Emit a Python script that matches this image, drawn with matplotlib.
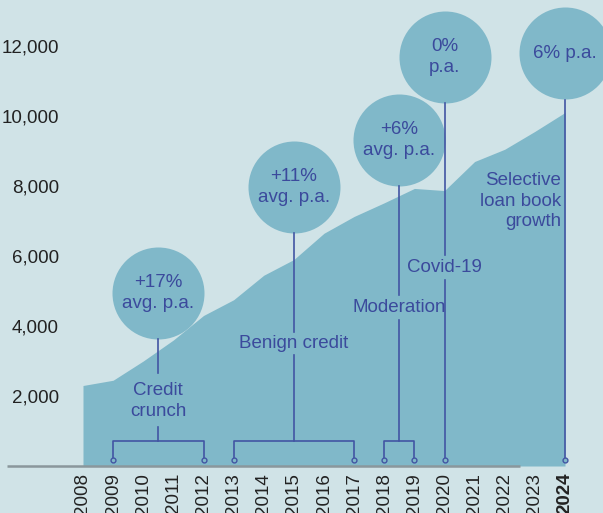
import numpy as np
import matplotlib.pyplot as plt

# --- data -------------------------------------------------------------
years = np.arange(2008, 2025)
loans = [2300, 2450, 3000, 3600, 4300, 4750, 5450, 5900, 6650,
         7130, 7520, 7930, 7870, 8700, 9050, 9560, 10100]

y_ticks = [2000, 4000, 6000, 8000, 10000, 12000]
y_tick_labels = ['2,000', '4,000', '6,000', '8,000', '10,000', '12,000']

phase_growth = ['+17%\navg. p.a.', '+11%\navg. p.a.', '+6%\navg. p.a.', '0%\np.a.', '6% p.a.']
phase_names = ['Credit\ncrunch', 'Benign credit', 'Moderation', 'Covid-19',
               'Selective\nloan book\ngrowth']
phase_start = [2009, 2013, 2018, 2020, 2024]
phase_end = [2012, 2017, 2019, 2020, 2024]

# --- layout (pixel rows measured from the top of the picture) ---------
bubble_row = [293, 187, 140, 57, 53]
name_row = [401, 343, 308, 268, 201]
seg_top = [(339, 373), (233, 332), (186, 295), (103, 255), (100, 460)]
seg_bot = [(427, 441), (355, 441), (320, 441), (280, 460), None]
bracket_row = 441
foot_row = 460

bg = '#d0e3e7'
fill = '#80b8c9'
ink = '#3b4a9c'
line_col = '#4255a3'

base_px = 466.0
px_per_unit = 0.035  # pixels per loan unit


def val(px):
    return (base_px - px) / px_per_unit


plt.rcParams['font.family'] = ['Liberation Sans', 'DejaVu Sans']

fig = plt.figure(figsize=(6.03, 5.13), dpi=100, facecolor=bg)
ax = fig.add_axes([7 / 603, (513 - base_px) / 513, 596 / 603, base_px / 513])
ax.set_facecolor(bg)

x_left = 2008 - 76 / 30.125
x_right = 2008 + 520 / 30.125
ax.set_xlim(x_left, x_right)
ax.set_ylim(0, base_px / px_per_unit)

ax.fill_between(years, loans, 0, color=fill, lw=0, zorder=1)
ax.plot([x_left, 2022.5], [0, 0], color='#8a979c', lw=1.8, zorder=2,
        clip_on=False, solid_capstyle='butt')

for sp in ax.spines.values():
    sp.set_visible(False)

ax.set_yticks(y_ticks)
ax.set_yticklabels(y_tick_labels)
ax.tick_params(axis='y', length=0, pad=-37.4, labelsize=13.5, labelcolor='#222222')
ax.set_xticks(years)
ax.set_xticklabels([str(y) for y in years], rotation=90)
ax.tick_params(axis='x', length=0, pad=5, labelsize=13.5, labelcolor='#222222')
ax.get_xticklabels()[-1].set_fontweight('bold')

centres = [(s + e) / 2 for s, e in zip(phase_start, phase_end)]

# bubbles
r_px = 46
ax.scatter(centres, [val(p) for p in bubble_row], s=(2 * r_px * 0.72) ** 2,
           color=fill, lw=0, zorder=3, clip_on=False)
for i, c in enumerate(centres):
    ax.text(c, val(bubble_row[i]), phase_growth[i], ha='center', va='center',
            fontsize=13.5, color=ink, zorder=5, linespacing=1.3)

# stems, brackets and phase names
for i, c in enumerate(centres):
    a, b = seg_top[i]
    ax.plot([c, c], [val(a), val(b)], color=line_col, lw=1.2, zorder=4)
    if seg_bot[i] is not None:
        a, b = seg_bot[i]
        ax.plot([c, c], [val(a), val(b)], color=line_col, lw=1.2, zorder=4)
    if phase_start[i] != phase_end[i]:
        s, e = phase_start[i], phase_end[i]
        ax.plot([s, s, e, e], [val(foot_row), val(bracket_row), val(bracket_row), val(foot_row)],
                color=line_col, lw=1.2, zorder=4)
        ax.plot([s, e], [val(foot_row)] * 2, 'o', ms=3.5, mfc=fill, mec=line_col,
                mew=1, zorder=5, ls='none')
    else:
        ax.plot([c], [val(foot_row)], 'o', ms=3.5, mfc=fill, mec=line_col,
                mew=1, zorder=5, ls='none')

    if i == len(centres) - 1:
        ax.text(c - 4 / 30.125, val(name_row[i]), phase_names[i], ha='right', va='center',
                fontsize=13.5, color=ink, zorder=5, linespacing=1.25)
    else:
        ax.text(c, val(name_row[i]), phase_names[i], ha='center', va='center',
                fontsize=13.5, color=ink, zorder=5, linespacing=1.25)

fig.savefig('out.png', dpi=100, facecolor=bg)
